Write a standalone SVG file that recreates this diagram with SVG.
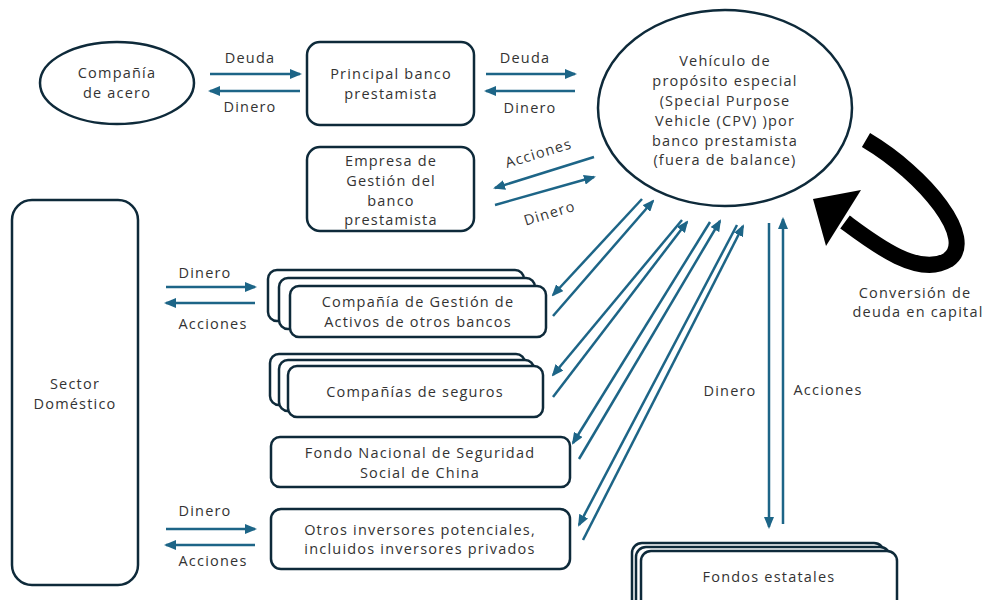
<svg xmlns="http://www.w3.org/2000/svg" width="983" height="600" viewBox="0 0 983 600">
<style>
.n{fill:#fff;stroke:#0e2a3a;stroke-width:2.5}
.t{font-family:"Open Sans","Liberation Sans",sans-serif;font-size:14.5px;letter-spacing:1.2px;fill:#333;text-anchor:middle}
.a{stroke:#1d6587;stroke-width:2.5;fill:none;marker-end:url(#ah)}
</style>
<defs>
<marker id="ah" markerUnits="userSpaceOnUse" markerWidth="12" markerHeight="10" refX="10" refY="5" orient="auto">
<path d="M0,0 L12,5 L0,10 z" fill="#1d6587"/>
</marker>
</defs>
<rect width="983" height="600" fill="#fff"/>

<g id="acero">
<ellipse class="n" cx="117" cy="83" rx="77" ry="41"/>
<text class="t" x="117" y="78">Compañía</text>
<text class="t" x="117" y="98">de acero</text>
</g>
<g id="principal">
<rect class="n" x="307" y="42" width="167" height="83" rx="13"/>
<text class="t" x="391" y="79">Principal banco</text>
<text class="t" x="391" y="99">prestamista</text>
</g>
<g id="spv">
<ellipse class="n" cx="725" cy="108" rx="127" ry="98"/>
<text class="t" x="725" y="66">Vehículo de</text>
<text class="t" x="725" y="86">propósito especial</text>
<text class="t" x="725" y="106">(Special Purpose</text>
<text class="t" x="725" y="126">Vehicle (CPV) )por</text>
<text class="t" x="725" y="146">banco prestamista</text>
<text class="t" x="725" y="165">(fuera de balance)</text>
</g>
<g id="empresa">
<rect class="n" x="307" y="147" width="167" height="84" rx="13"/>
<text class="t" x="391" y="166">Empresa de</text>
<text class="t" x="391" y="186">Gestión del</text>
<text class="t" x="391" y="206">banco</text>
<text class="t" x="391" y="225">prestamista</text>
</g>
<g id="sector">
<rect class="n" x="12" y="200" width="126" height="385" rx="20"/>
<text class="t" x="75" y="389">Sector</text>
<text class="t" x="75" y="409">Doméstico</text>
</g>
<g id="cga">
<rect class="n" x="268" y="270" width="256" height="51" rx="9"/>
<rect class="n" x="279" y="278" width="256" height="51" rx="9"/>
<rect class="n" x="290" y="286" width="256" height="51" rx="9"/>
<text class="t" x="418" y="307">Compañía de Gestión de</text>
<text class="t" x="418" y="327">Activos de otros bancos</text>
</g>
<g id="seguros">
<rect class="n" x="270" y="354" width="255" height="51" rx="9"/>
<rect class="n" x="279" y="360" width="255" height="51" rx="9"/>
<rect class="n" x="288" y="366" width="255" height="51" rx="9"/>
<text class="t" x="415" y="397">Compañías de seguros</text>
</g>
<g id="fondo">
<rect class="n" x="271" y="437" width="299" height="50" rx="9"/>
<text class="t" x="420" y="458">Fondo Nacional de Seguridad</text>
<text class="t" x="420" y="478">Social de China</text>
</g>
<g id="otros">
<rect class="n" x="271" y="509" width="299" height="60" rx="10"/>
<text class="t" x="420" y="535">Otros inversores potenciales,</text>
<text class="t" x="420" y="554">incluidos inversores privados</text>
</g>
<g id="estatales">
<rect class="n" x="632" y="543" width="252" height="70" rx="10"/>
<rect class="n" x="636" y="547" width="254" height="70" rx="10"/>
<rect class="n" x="641" y="551" width="256" height="70" rx="10"/>
<text class="t" x="769" y="582">Fondos estatales</text>
</g>

<g id="connectors">
<line class="a" x1="210" y1="74" x2="300" y2="74"/>
<line class="a" x1="300" y1="91" x2="210" y2="91"/>
<line class="a" x1="486" y1="74" x2="575" y2="74"/>
<line class="a" x1="575" y1="91" x2="486" y2="91"/>
<line class="a" x1="594" y1="157" x2="495" y2="188"/>
<line class="a" x1="495" y1="205" x2="594" y2="177"/>
<line class="a" x1="166" y1="287" x2="255" y2="287"/>
<line class="a" x1="255" y1="303" x2="166" y2="303"/>
<line class="a" x1="166" y1="529" x2="255" y2="529"/>
<line class="a" x1="255" y1="545" x2="166" y2="545"/>
<line class="a" x1="642" y1="199" x2="553" y2="295"/>
<line class="a" x1="553" y1="316" x2="653" y2="201"/>
<line class="a" x1="682" y1="220" x2="553" y2="375"/>
<line class="a" x1="553" y1="397" x2="687" y2="222"/>
<line class="a" x1="710" y1="222" x2="573" y2="443"/>
<line class="a" x1="579" y1="459" x2="720" y2="221"/>
<line class="a" x1="737" y1="225" x2="579" y2="525"/>
<line class="a" x1="583" y1="540" x2="743" y2="226"/>
<line class="a" x1="769" y1="223" x2="769" y2="527"/>
<line class="a" x1="783" y1="524" x2="783" y2="219"/>
<path d="M866,140 C925,175 978,240 948,260 C918,278 872,242 845,222" fill="none" stroke="#000" stroke-width="16"/>
<polygon points="813,199 861,190 826,246" fill="#000"/>
</g>

<g id="labels">
<text class="t" x="250" y="63">Deuda</text>
<text class="t" x="250" y="112">Dinero</text>
<text class="t" x="525" y="63">Deuda</text>
<text class="t" x="530" y="113">Dinero</text>
<text class="t" transform="translate(540,158) rotate(-17)">Acciones</text>
<text class="t" transform="translate(551,218) rotate(-17)">Dinero</text>
<text class="t" x="205" y="278">Dinero</text>
<text class="t" x="213" y="329">Acciones</text>
<text class="t" x="205" y="516">Dinero</text>
<text class="t" x="213" y="566">Acciones</text>
<text class="t" x="730" y="396">Dinero</text>
<text class="t" x="828" y="395">Acciones</text>
<text class="t" x="915" y="298">Conversión de</text>
<text class="t" x="918" y="317">deuda en capital</text>
</g>
</svg>
